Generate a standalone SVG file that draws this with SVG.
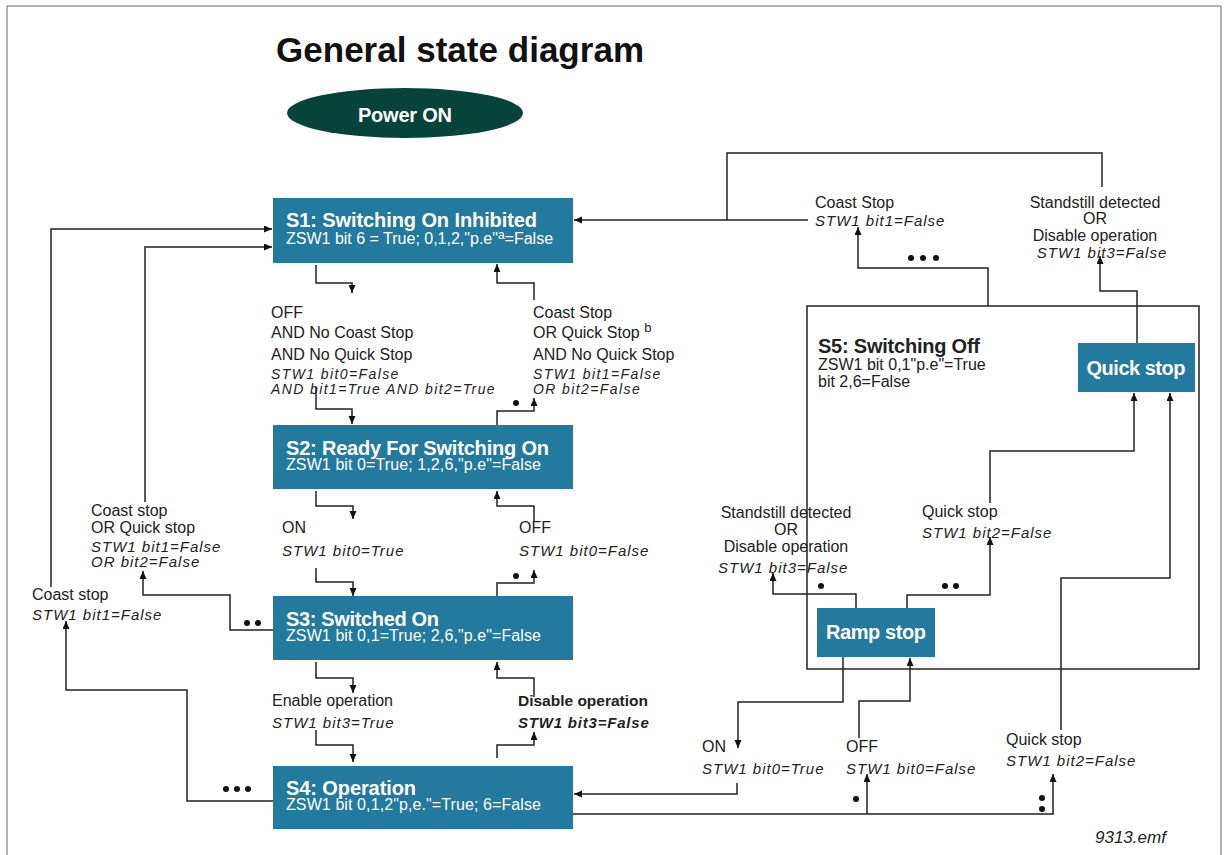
<svg xmlns="http://www.w3.org/2000/svg" width="1226" height="855" viewBox="0 0 1226 855">
<style>
.box{fill:#23799e}
.bt{font-family:"Liberation Sans",Arial,sans-serif;font-weight:bold;font-size:20px;fill:#fff}
.bs{font-family:"Liberation Sans",Arial,sans-serif;font-size:16px;fill:#fff}
.lb{font-family:"Liberation Sans",Arial,sans-serif;font-size:16px;fill:#222}
.it{font-family:"Liberation Sans",Arial,sans-serif;font-size:15px;font-style:italic;letter-spacing:1px;fill:#222}
.sm{font-size:14px;letter-spacing:1.4px}
.bd{font-weight:bold}
.c{text-anchor:middle}
.ln{fill:none;stroke:#222;stroke-width:1.5}
.ar{marker-end:url(#ah)}
.dot{fill:#111}
</style>
<defs>
<marker id="ah" markerUnits="userSpaceOnUse" markerWidth="9" markerHeight="8" refX="8" refY="3.5" orient="auto">
<path d="M0,0 L8,3.5 L0,7 z" fill="#111"/>
</marker>
</defs>
<rect width="1226" height="855" fill="#fff"/>
<path d="M7,860 V6 H1221 V860" fill="none" stroke="#666" stroke-width="1"/>
<text x="276" y="62" font-family="'Liberation Sans',Arial,sans-serif" font-weight="bold" font-size="35" fill="#111" textLength="368">General state diagram</text>

<g id="power-on">
<ellipse cx="405" cy="113" rx="118" ry="25" fill="#06443a"/>
<text class="bt c" x="405" y="122" textLength="94">Power ON</text>
</g>

<g id="s1">
<rect class="box" x="273" y="198" width="300" height="65"/>
<text class="bt" x="286" y="227" textLength="251">S1: Switching On Inhibited</text>
<text class="bs" x="286" y="244">ZSW1 bit 6 = True; 0,1,2,"p.e"<tspan font-size="12" dy="-5">a</tspan><tspan dy="5">=False</tspan></text>
</g>
<g id="s2">
<rect class="box" x="273" y="425" width="300" height="64"/>
<text class="bt" x="286" y="455" textLength="263">S2: Ready For Switching On</text>
<text class="bs" x="286" y="470" textLength="255">ZSW1 bit 0=True; 1,2,6,"p.e"=False</text>
</g>
<g id="s3">
<rect class="box" x="273" y="596" width="300" height="64"/>
<text class="bt" x="286" y="626" textLength="153">S3: Switched On</text>
<text class="bs" x="286" y="641" textLength="255">ZSW1 bit 0,1=True; 2,6,"p.e"=False</text>
</g>
<g id="s4">
<rect class="box" x="273" y="766" width="300" height="63"/>
<text class="bt" x="286" y="795" textLength="130">S4: Operation</text>
<text class="bs" x="286" y="810" textLength="255">ZSW1 bit 0,1,2"p,e."=True; 6=False</text>
</g>
<g id="s5">
<rect x="807" y="306" width="392" height="363" fill="none" stroke="#222" stroke-width="1.5"/>
<text class="lb bd" x="818" y="353" style="font-size:20px" textLength="162">S5: Switching Off</text>
<text class="lb" x="818" y="370">ZSW1 bit 0,1"p.e"=True</text>
<text class="lb" x="818" y="387">bit 2,6=False</text>
</g>
<g id="quick-stop">
<rect class="box" x="1078" y="343" width="117" height="49"/>
<text class="bt c" x="1136" y="375" textLength="99">Quick stop</text>
</g>
<g id="ramp-stop">
<rect class="box" x="817" y="608" width="118" height="49"/>
<text class="bt c" x="876" y="639" textLength="100">Ramp stop</text>
</g>

<g id="labels">
<text class="lb" x="271" y="318">OFF</text>
<text class="lb" x="271" y="338">AND No Coast Stop</text>
<text class="lb" x="271" y="360">AND No Quick Stop</text>
<text class="it sm" x="271" y="379">STW1 bit0=False</text>
<text class="it sm" x="271" y="394">AND bit1=True AND bit2=True</text>

<text class="lb" x="533" y="318">Coast Stop</text>
<text class="lb" x="533" y="338">OR Quick Stop <tspan font-size="13" dy="-6">b</tspan></text>
<text class="lb" x="533" y="360">AND No Quick Stop</text>
<text class="it sm" x="533" y="379">STW1 bit1=False</text>
<text class="it sm" x="533" y="394">OR bit2=False</text>

<text class="lb" x="282" y="533">ON</text>
<text class="it" x="282" y="556">STW1 bit0=True</text>
<text class="lb" x="519" y="533">OFF</text>
<text class="it" x="519" y="556">STW1 bit0=False</text>

<text class="lb" x="272" y="706">Enable operation</text>
<text class="it" x="272" y="728">STW1 bit3=True</text>
<text class="lb bd" x="518" y="706" style="font-size:15.5px" textLength="130">Disable operation</text>
<text class="it bd" x="518" y="728" style="letter-spacing:0.8px">STW1 bit3=False</text>

<text class="lb" x="91" y="516">Coast stop</text>
<text class="lb" x="91" y="533">OR Quick stop</text>
<text class="it" x="91" y="552">STW1 bit1=False</text>
<text class="it" x="91" y="567">OR bit2=False</text>
<text class="lb" x="32" y="600">Coast stop</text>
<text class="it" x="32" y="620">STW1 bit1=False</text>

<text class="lb" x="815" y="208">Coast Stop</text>
<text class="it" x="815" y="226">STW1 bit1=False</text>
<text class="lb c" x="1095" y="208">Standstill detected</text>
<text class="lb c" x="1095" y="224">OR</text>
<text class="lb c" x="1095" y="241">Disable operation</text>
<text class="it c" x="1102" y="258">STW1 bit3=False</text>

<text class="lb c" x="786" y="518">Standstill detected</text>
<text class="lb c" x="786" y="535">OR</text>
<text class="lb c" x="786" y="552">Disable operation</text>
<text class="it" x="718" y="573">STW1 bit3=False</text>
<text class="lb" x="922" y="517">Quick stop</text>
<text class="it" x="922" y="538">STW1 bit2=False</text>

<text class="lb" x="702" y="752">ON</text>
<text class="it" x="702" y="774">STW1 bit0=True</text>
<text class="lb" x="846" y="752">OFF</text>
<text class="it" x="846" y="774">STW1 bit0=False</text>
<text class="lb" x="1006" y="745">Quick stop</text>
<text class="it" x="1006" y="766">STW1 bit2=False</text>

<text x="1095" y="843" font-family="'Liberation Sans',Arial,sans-serif" font-style="italic" font-size="17" fill="#222">9313.emf</text>
</g>

<g id="connectors">
<path class="ln ar" d="M316,265 V283 H352 V293"/>
<path class="ln ar" d="M316,387 V409 H352 V424"/>
<path class="ln ar" d="M497,425 V411 H534 V398"/>
<path class="ln ar" d="M534,300 V283 H497 V264"/>
<path class="ln ar" d="M316,491 V506 H353 V519"/>
<path class="ln ar" d="M316,568 V582 H353 V596"/>
<path class="ln ar" d="M497,596 V583 H534 V570"/>
<path class="ln ar" d="M534,522 V506 H497 V491"/>
<path class="ln ar" d="M316,662 V678 H353 V693"/>
<path class="ln ar" d="M316,730 V745 H353 V762"/>
<path class="ln ar" d="M497,758 V745 H534 V732"/>
<path class="ln ar" d="M534,697 V678 H497 V662"/>

<path class="ln ar" d="M273,630 H230 V595 H143 V571"/>
<path class="ln ar" d="M145,502 V247 H272"/>
<path class="ln ar" d="M51,587 V229 H272"/>
<path class="ln ar" d="M273,801 H187 V690 H66 V621"/>

<path class="ln ar" d="M808,220 H574"/>
<path class="ln" d="M727,220 V153 H1102 V187"/>
<path class="ln ar" d="M988,306 V268 H858 V227"/>
<path class="ln ar" d="M1137,343 V291 H1100 V256"/>

<path class="ln ar" d="M856,608 V594 H773 V573"/>
<path class="ln ar" d="M907,608 V595 H990 V537"/>
<path class="ln ar" d="M990,503 V451 H1134 V393"/>
<path class="ln ar" d="M843,657 V702 H738 V748"/>
<path class="ln ar" d="M859,738 V701 H910 V658"/>
<path class="ln ar" d="M1061,730 V578 H1170 V393"/>

<path class="ln ar" d="M737,783 V794 H574"/>
<path class="ln ar" d="M573,814 H1053 V774"/>
<path class="ln ar" d="M867,814 V774"/>

<circle class="dot" cx="516" cy="403" r="3"/>
<circle class="dot" cx="516" cy="576" r="3"/>
<circle class="dot" cx="247" cy="623" r="3"/>
<circle class="dot" cx="258" cy="623" r="3"/>
<circle class="dot" cx="226" cy="789" r="3"/>
<circle class="dot" cx="237" cy="789" r="3"/>
<circle class="dot" cx="248" cy="789" r="3"/>
<circle class="dot" cx="911" cy="258" r="3"/>
<circle class="dot" cx="923" cy="258" r="3"/>
<circle class="dot" cx="936" cy="258" r="3"/>
<circle class="dot" cx="821" cy="586" r="3"/>
<circle class="dot" cx="945" cy="586" r="3"/>
<circle class="dot" cx="956" cy="586" r="3"/>
<circle class="dot" cx="856" cy="799" r="3"/>
<circle class="dot" cx="1042" cy="798" r="3"/>
<circle class="dot" cx="1042" cy="809" r="3"/>
</g>
</svg>
